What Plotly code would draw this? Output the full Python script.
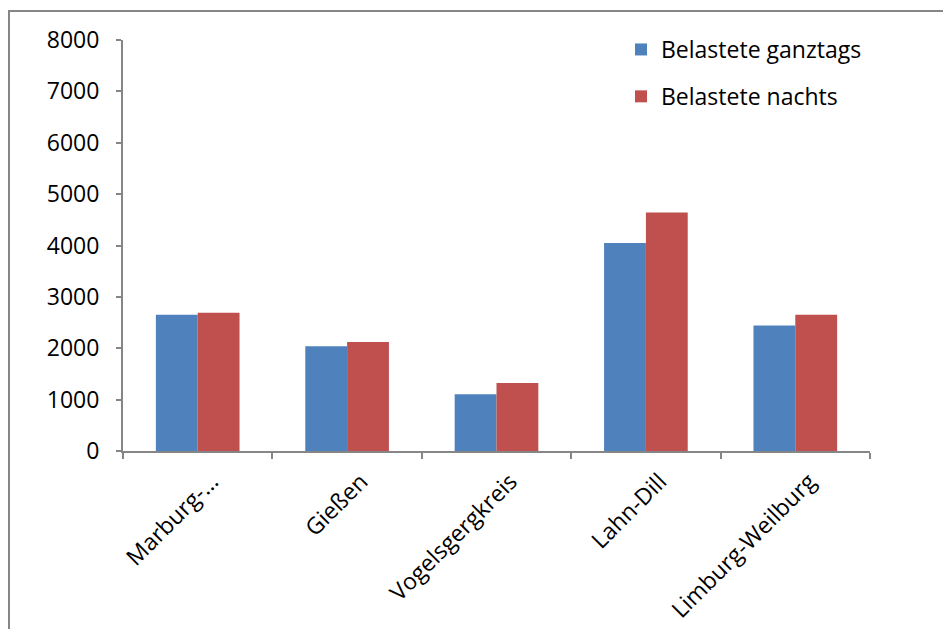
import plotly.graph_objects as go

categories = ["Marburg-...", "Gießen", "Vogelsgergkreis", "Lahn-Dill", "Limburg-Weilburg"]
ganztags = [2650, 2040, 1105, 4050, 2445]
nachts = [2690, 2120, 1325, 4640, 2650]
y_ticks = [0, 1000, 2000, 3000, 4000, 5000, 6000, 7000, 8000]

W, H = 943, 629
L, R, T, B = 123, 870, 40, 451
pw, ph = R - L, B - T

def px(x):
    return (x - L) / pw

def py(y):
    return (B - y) / ph

FONT = "Open Sans"
AX = "#868686"
FS = 23

fig = go.Figure()
fig.add_trace(go.Bar(x=categories, y=ganztags, name="Belastete ganztags",
                     marker=dict(color="#4F81BD", line=dict(width=0)), legendgroup="a"))
fig.add_trace(go.Bar(x=categories, y=nachts, name="Belastete nachts",
                     marker=dict(color="#C0504D", line=dict(width=0)), legendgroup="b"))

fig.update_layout(
    width=W, height=H,
    margin=dict(l=L, r=W - R, t=T, b=H - B, autoexpand=False),
    paper_bgcolor="white", plot_bgcolor="white",
    barmode="group", bargap=0.44, bargroupgap=0,
    font=dict(family=FONT, size=FS, color="black"),
    showlegend=True,
    legend=dict(x=px(621), y=py(28), xanchor="left", yanchor="top",
                font=dict(family=FONT, size=FS), tracegroupgap=14,
                bgcolor="rgba(0,0,0,0)"),
    xaxis=dict(showline=True, linecolor=AX, linewidth=2, ticks="outside",
               tickson="boundaries", ticklen=6, tickcolor=AX, tickwidth=2,
               tickangle=-45, showgrid=False, zeroline=False, automargin=False,
               ticklabelshift=14, ticklabelstandoff=6,
               tickfont=dict(family=FONT, size=FS)),
    yaxis=dict(range=[0, 8000], tickvals=y_ticks, showline=True, linecolor=AX, linewidth=2,
               ticks="outside", ticklen=5, tickcolor=AX, tickwidth=2,
               ticklabelstandoff=12, automargin=False,
               showgrid=False, zeroline=False, tickfont=dict(family=FONT, size=FS)),
    shapes=[dict(type="rect", xref="paper", yref="paper",
                 x0=px(9), x1=px(990), y0=py(700), y1=py(11),
                 line=dict(color=AX, width=2), fillcolor="rgba(0,0,0,0)", layer="below")],
)

fig.write_html("out.html")
